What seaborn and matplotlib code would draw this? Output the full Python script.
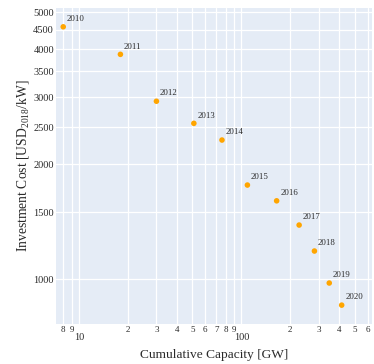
import numpy as np
import pandas as pd
import matplotlib
matplotlib.use('Agg')
import matplotlib.pyplot as plt
import seaborn as sns
from matplotlib.ticker import FixedLocator, FixedFormatter, NullLocator

# Data
years = [2010, 2011, 2012, 2013, 2014, 2015, 2016, 2017, 2018, 2019, 2020]
capacity_gw = [8.0, 18.0, 30.0, 51.0, 76.0, 109.0, 165.0, 227.0, 282.0, 348.0, 415.0]
cost_usd_kw = [4580, 3880, 2925, 2560, 2315, 1765, 1605, 1387, 1186, 978, 856]

y_ticks = [1000, 1500, 2000, 2500, 3000, 3500, 4000, 4500, 5000]
x_major = [10, 100]
x_minor = [8, 9, 20, 30, 40, 50, 60, 70, 80, 90, 200, 300, 400, 500, 600]
x_minor_labels = ['8', '9', '2', '3', '4', '5', '6', '7', '8', '9', '2', '3', '4', '5', '6']

df = pd.DataFrame({'year': years, 'capacity': capacity_gw, 'cost': cost_usd_kw})

sns.set_theme(style='darkgrid', rc={
    'axes.facecolor': '#E5ECF6',
    'grid.color': 'white',
    'grid.linewidth': 0.9,
    'axes.edgecolor': '#E5ECF6',
})
plt.rcParams['font.family'] = ['Liberation Serif', 'DejaVu Serif']
plt.rcParams['mathtext.fontset'] = 'custom'
plt.rcParams['mathtext.rm'] = 'Liberation Serif'

fig = plt.figure(figsize=(3.74, 3.64), dpi=100)
ax = fig.add_axes([56 / 374, 1 - 324 / 364, 316 / 374, 316 / 364])

sns.scatterplot(data=df, x='capacity', y='cost', ax=ax, color='#FFA500',
                s=16, edgecolor='none', zorder=3)

ax.set_xscale('log')
ax.set_yscale('log')
ax.set_xlim(7.22, 638)
ax.set_ylim(764, 5130)

for yr, cx, cy in zip(years, capacity_gw, cost_usd_kw):
    ax.annotate(str(yr), (cx, cy), xytext=(2.6, 4.2), textcoords='offset points',
                fontsize=6.3, color='#2a2a2a', ha='left', va='baseline')

ax.xaxis.set_major_locator(FixedLocator(x_major))
ax.xaxis.set_major_formatter(FixedFormatter([str(v) for v in x_major]))
ax.xaxis.set_minor_locator(FixedLocator(x_minor))
ax.xaxis.set_minor_formatter(FixedFormatter(x_minor_labels))
ax.yaxis.set_major_locator(FixedLocator(y_ticks))
ax.yaxis.set_major_formatter(FixedFormatter([str(v) for v in y_ticks]))
ax.yaxis.set_minor_locator(NullLocator())

ax.tick_params(axis='x', which='major', labelsize=7.4, pad=6.5, length=0, labelcolor='#2a2a2a')
ax.tick_params(axis='x', which='minor', labelsize=6.5, pad=1.5, length=0, labelcolor='#2a2a2a')
ax.tick_params(axis='y', which='major', labelsize=7.5, pad=1.5, length=0, labelcolor='#2a2a2a')

ax.grid(True, which='both', axis='x', color='white', linewidth=0.9)
ax.grid(True, which='major', axis='y', color='white', linewidth=0.9)
for sp in ax.spines.values():
    sp.set_visible(False)

ax.set_xlabel('Cumulative Capacity [GW]', fontsize=9.6, color='#2a2a2a', labelpad=5)
ax.set_ylabel(r'Investment Cost [USD$_{\mathregular{2018}}$/kW]', fontsize=9.8,
              color='#2a2a2a', labelpad=1.5)

fig.savefig('out.png', dpi=100)
plt.close(fig)
